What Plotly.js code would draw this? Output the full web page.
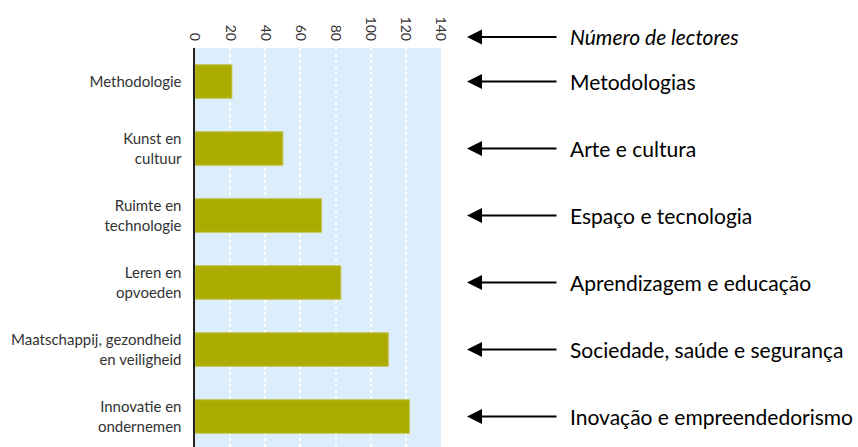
<!DOCTYPE html>
<html>
<head>
<meta charset="utf-8">
<script src="https://cdn.plot.ly/plotly-3.0.1.min.js"></script>
<style>html,body{margin:0;padding:0;background:#fff;}#chart{width:858px;height:447px;}</style>
</head>
<body>
<div id="chart"></div>
<script>
// Data
const categories = [
  "Methodologie",
  "Kunst en<br>cultuur",
  "Ruimte en<br>technologie",
  "Leren en<br>opvoeden",
  "Maatschappij, gezondheid<br>en veiligheid",
  "Innovatie en<br>ondernemen"
];
const readers = [21, 50, 72, 83, 110, 122];
const translations = [
  "Metodologias",
  "Arte e cultura",
  "Espaço e tecnologia",
  "Aprendizagem e educação",
  "Sociedade, saúde e segurança",
  "Inovação e empreendedorismo"
];
const axisTranslation = "Número de lectores";
const xTicks = [0, 20, 40, 60, 80, 100, 120, 140];

// Layout geometry
const W = 858, H = 447, L = 195, PW = 246, T = 48;
const px2paper = px => (px - L) / PW;
const arrowTip = 467, arrowTail = 558, textX = 568;
const rightFont = {family: "Lato, 'Open Sans', sans-serif", size: 21, color: "#000"};

const annotations = [];
function addArrow(yref, y, text, italic) {
  annotations.push({
    xref: "paper", yref: yref, x: px2paper(arrowTip), y: y,
    ax: arrowTail - arrowTip, ay: 0, axref: "pixel", ayref: "pixel",
    text: "", showarrow: true, arrowhead: 2, arrowsize: 1.5, arrowwidth: 2,
    arrowcolor: "#000", arrowside: "end", standoff: 0, startstandoff: 0
  });
  annotations.push({
    xref: "paper", yref: yref, x: px2paper(textX), y: y,
    xanchor: "left", yanchor: "middle", showarrow: false,
    text: italic ? "<i>" + text + "</i>" : text, font: rightFont
  });
}
addArrow("paper", 1 + 11 / (H - T), axisTranslation, true);
categories.forEach((c, i) => addArrow("y", c, translations[i], false));

const trace = {
  type: "bar", orientation: "h",
  y: categories, x: readers,
  marker: {color: "#abab00", line: {color: "#c2c24a", width: 1}},
  hoverinfo: "skip"
};

const layout = {
  width: W, height: H,
  margin: {l: L, r: W - L - PW, t: T, b: 0, pad: 0},
  paper_bgcolor: "#fff", plot_bgcolor: "#dcedfb",
  bargap: 0.5, showlegend: false,
  xaxis: {
    side: "top", range: [0, 140], tickvals: xTicks, tickangle: 90,
    showgrid: true, gridcolor: "#ffffff", gridwidth: 2, griddash: "dot",
    zeroline: false, showline: false, ticks: "", ticklabelstandoff: 4,
    tickfont: {family: "Lato, sans-serif", size: 14, color: "#333"}
  },
  yaxis: {
    type: "category", range: [5.455, -0.5],
    showline: true, linecolor: "#222", linewidth: 2.5,
    showgrid: false, zeroline: false, ticks: "", ticklabelstandoff: 8,
    tickfont: {family: "Lato, sans-serif", size: 15, color: "#333"}
  },
  annotations: annotations
};

Plotly.newPlot("chart", [trace], layout, {displayModeBar: false, staticPlot: true});
</script>
</body>
</html>
